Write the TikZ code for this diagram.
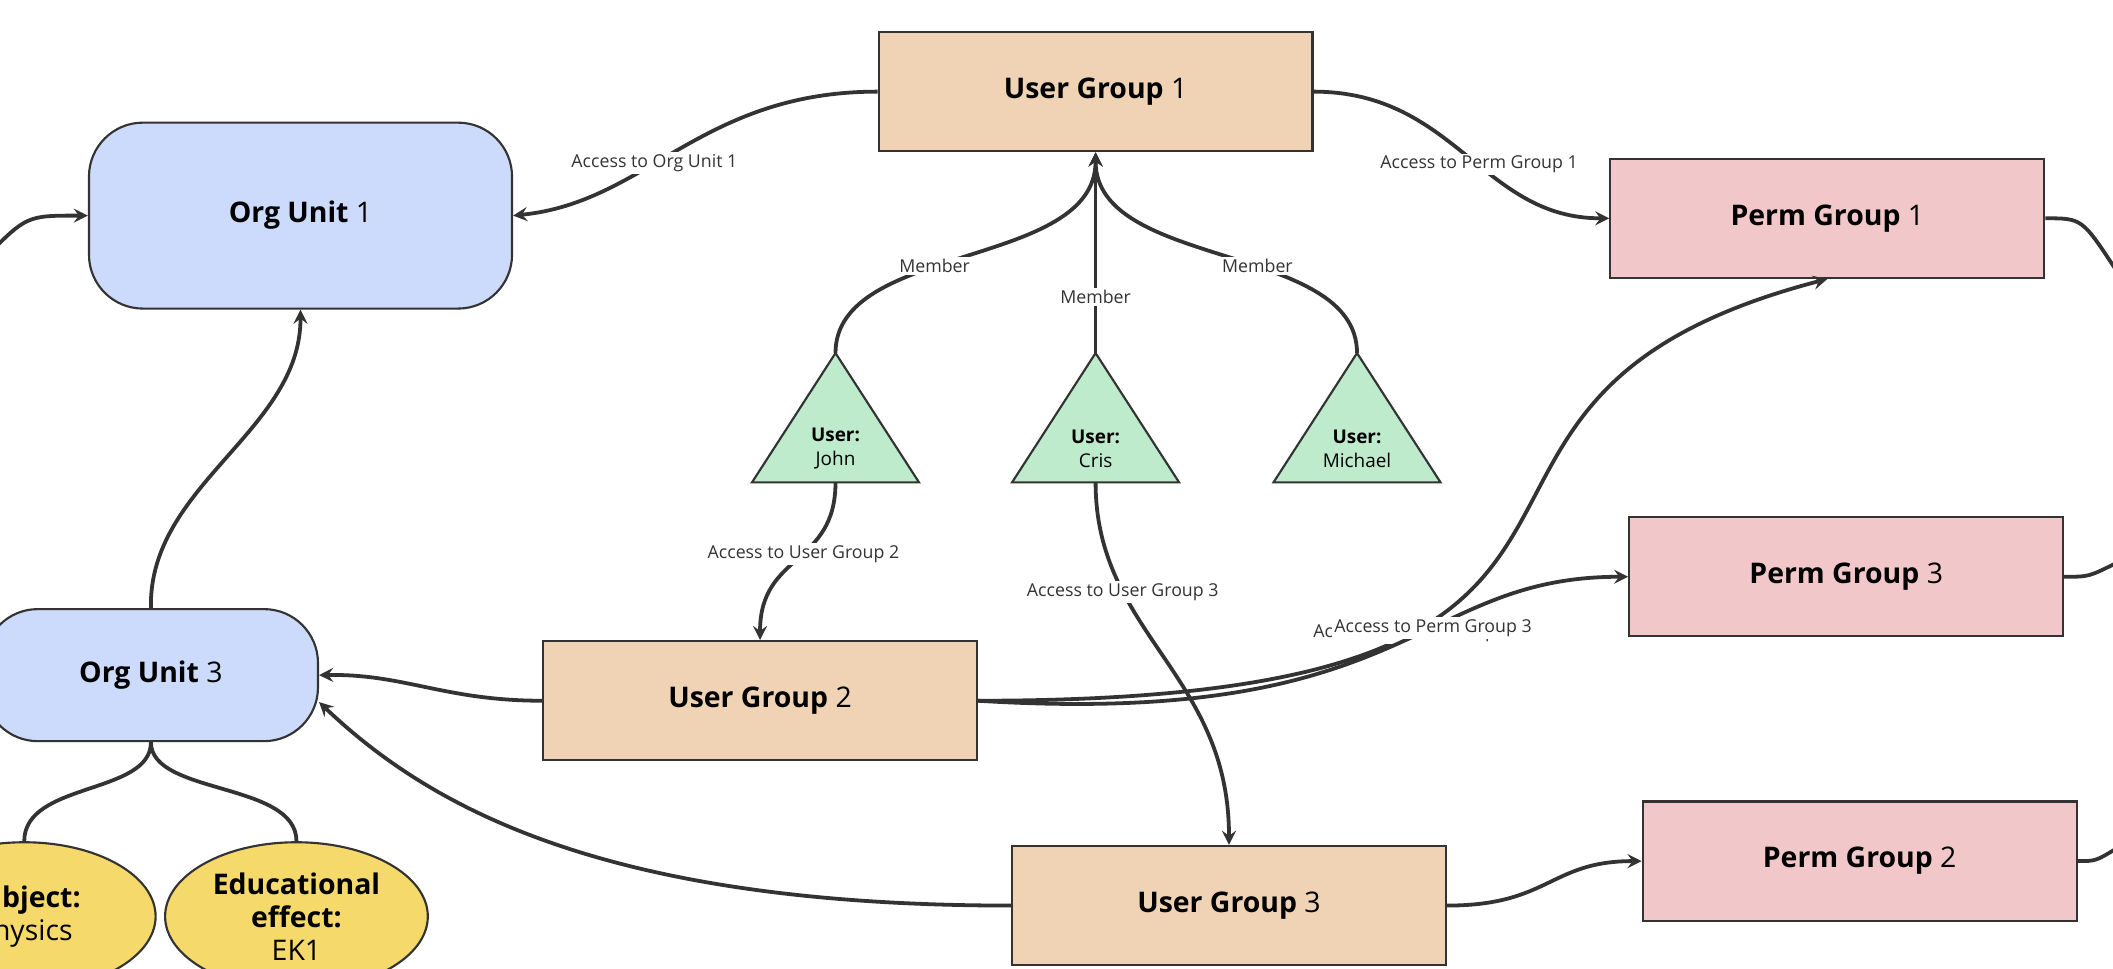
\documentclass[tikz,border=0pt]{standalone}
\usepackage{fontspec}
\setmainfont{Open Sans}
\usetikzlibrary{positioning}
\usetikzlibrary{arrows}
\usetikzlibrary{shapes.geometric,calc}
\definecolor{orgblue}{HTML}{CCDAFB}
\definecolor{usertan}{HTML}{EFD3B4}
\definecolor{permpink}{HTML}{F2C7C9}
\definecolor{usergreen}{HTML}{BDEBCC}
\definecolor{attryellow}{HTML}{F5D96B}
\definecolor{edgegray}{HTML}{333333}
\tikzset{
  box/.style={draw=edgegray, line width=0.9pt, minimum width=6.44cm, minimum height=1.77cm, font=\fontsize{12}{14}\selectfont},
  usergroup/.style={box, fill=usertan},
  permgroup/.style={box, fill=permpink},
  orgunit/.style={box, fill=orgblue, rounded corners=0.8cm},
  attr/.style={draw=edgegray, line width=0.9pt, ellipse, fill=attryellow, minimum width=3.9cm, minimum height=2.2cm, align=center, font=\fontsize{12}{14}\selectfont},
  user/.style={draw=edgegray, line width=0.9pt, fill=usergreen},
  conn/.style={-stealth, draw=edgegray, line width=1.6pt},
  lbl/.style={fill=white, inner sep=1pt, font=\fontsize{7.5}{9}\selectfont, text=edgegray}
}
\begin{document}
\begin{tikzpicture}[x=0.02cm, y=-0.02cm]
\useasboundingbox (0,0) rectangle (1568,719);

% Groups and units
\node[usergroup] (ug1) at (813,68) {\textbf{User Group} 1};
\node[usergroup] (ug2) at (564,520) {\textbf{User Group} 2};
\node[usergroup] (ug3) at (912,672) {\textbf{User Group} 3};
\node[permgroup] (pg1) at (1356,162) {\textbf{Perm Group} 1};
\node[permgroup] (pg3) at (1370,428) {\textbf{Perm Group} 3};
\node[permgroup] (pg2) at (1380,639) {\textbf{Perm Group} 2};
\node[orgunit, minimum width=6.28cm, minimum height=2.76cm] (ou1) at (223,160) {\textbf{Org Unit} 1};
\node[orgunit, minimum width=4.96cm, minimum height=1.96cm] (ou3) at (112,501) {\textbf{Org Unit} 3};

% Attributes
\node[attr] (subject) at (18,680) {\textbf{Subject:}\\Physics};
\node[attr] (effect) at (220,680) {\textbf{Educational}\\\textbf{effect:}\\EK1};

% Users
\foreach \name/\x/\txt in {john/620/John, cris/813/Cris, michael/1007/Michael}{
  \draw[user] (\x,262) -- (\x+62,358) -- (\x-62,358) -- cycle;
  \coordinate (\name top) at (\x,262);
  \coordinate (\name bot) at (\x,358);
  \node[font=\fontsize{8}{10}\selectfont, align=center] (\name) at (\x,333) {\textbf{User:}\\\txt};
}

% Membership
\draw[conn] (johntop) .. controls (620,180) and (813,200) .. (ug1.south) node[lbl, pos=0.42]{Member};
\draw[conn] (michaeltop) .. controls (1007,180) and (813,200) .. (ug1.south) node[lbl, pos=0.42]{Member};
\draw[conn] (cristop) -- (ug1.south) node[lbl, pos=0.28]{Member};

% Access
\draw[conn] (ug1.west) .. controls (520,68) and (480,150) .. (ou1.east) node[lbl, pos=0.58]{Access to Org Unit 1};
\draw[conn] (ug1.east) .. controls (1080,68) and (1100,162) .. (pg1.west) node[lbl, pos=0.55]{Access to Perm Group 1};
\draw[conn] (johnbot) .. controls (620,420) and (564,410) .. (ug2.north) node[lbl, pos=0.45]{Access to User Group 2};
\draw[conn] (crisbot) .. controls (813,470) and (912,500) .. (ug3.north) node[lbl, pos=0.29]{Access to User Group 3};
\draw[conn] (ou3.north) .. controls (110,360) and (223,320) .. (ou1.south);
\draw[conn] (ug2.west) .. controls (330,520) and (300,500) .. (ou3.east);
\draw[conn] (ug3.west) .. controls (450,672) and (320,600) .. ([yshift=-0.4cm]ou3.east);
\draw[conn] (ug2.east) .. controls (1300,520) and (1000,300) .. (pg1.south) node[lbl, pos=0.3]{Access to Perm Group 1};
\draw[conn] (ug2.east) .. controls (1050,540) and (1050,428) .. (pg3.west) node[lbl, pos=0.6]{Access to Perm Group 3};
\draw[conn] (ug3.east) .. controls (1150,672) and (1150,639) .. (pg2.west);
\draw[conn] (-10,190) .. controls (20,160) .. (ou1.west);

% Off-page connectors
\coordinate (out1) at (1570,200);
\coordinate (out3) at (1570,418);
\coordinate (out2) at (1570,630);
\draw[draw=edgegray, line width=1.6pt] (pg1.east) .. controls (1545,162) .. (out1);
\draw[draw=edgegray, line width=1.6pt] (pg3.east) .. controls (1550,428) .. (out3);
\draw[draw=edgegray, line width=1.6pt] (pg2.east) .. controls (1555,639) .. (out2);

% Attribute links
\draw[draw=edgegray, line width=1.6pt] (ou3.south) .. controls (112,590) and (18,580) .. (subject.north);
\draw[draw=edgegray, line width=1.6pt] (ou3.south) .. controls (112,590) and (220,580) .. (effect.north);
\end{tikzpicture}
\end{document}
